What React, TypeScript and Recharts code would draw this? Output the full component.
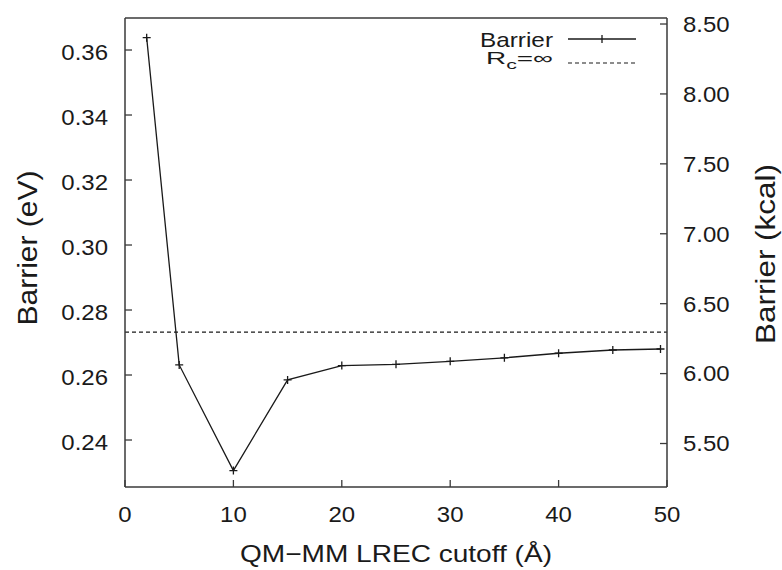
import { LineChart, Line, XAxis, YAxis, ReferenceLine, Legend, Label } from 'recharts';

// QM-MM LREC cutoff (Å) and barrier (eV)
const cutoff = [2, 5, 10, 15, 20, 25, 30, 35, 40, 45, 49.4];
const barrierEv = [0.3638, 0.2631, 0.2306, 0.2585, 0.2629, 0.2633, 0.2642, 0.2653, 0.2667, 0.2677, 0.268];
const infiniteCutoffEv = 0.2732;

const xTicks = [0, 10, 20, 30, 40, 50];
const evTicks = [0.24, 0.26, 0.28, 0.3, 0.32, 0.34, 0.36];
const kcalTicks = [5.5, 6.0, 6.5, 7.0, 7.5, 8.0, 8.5];

const data = cutoff.map((x, i) => ({ x, ev: barrierEv[i] }));

const FONT = '"Liberation Sans", Arial, Helvetica, sans-serif';
const INK = '#1a1a1a';
const AXIS = '#3a3a3a';
const FS = 22;
const SX = 1.09; // the figure's lettering is a bit wider than Arial

const fmt2 = (v: number) => v.toFixed(2);
const fmt0 = (v: number) => String(v);

// tick label drawn with a slight horizontal stretch
const makeTick = (side: 'bottom' | 'side', f: (v: number) => string, dy = 0) => (props: any) => {
  const { x, y, payload, textAnchor } = props;
  const by = side === 'bottom' ? y + 0.716 * FS : y + 0.358 * FS + dy;
  return (
    <text
      x={x}
      y={by}
      textAnchor={textAnchor}
      fontSize={FS}
      fill={INK}
      fontFamily={FONT}
      transform={`translate(${x} 0) scale(${SX} 1) translate(${-x} 0)`}
    >
      {f(payload.value)}
    </text>
  );
};

const PlusDot = (props: any) => {
  const { cx, cy, index } = props;
  if (cx == null || cy == null) return null;
  return <path key={`p${index}`} d={`M${cx - 4},${cy}h8M${cx},${cy - 4}v8`} stroke={INK} strokeWidth={1.3} fill="none" />;
};

function LegendBox() {
  return (
    <svg width={220} height={60} style={{ display: 'block', fontFamily: FONT }}>
      <text x={113} y={24.5} textAnchor="end" fontSize={21} fill={INK} textLength={73} lengthAdjust="spacingAndGlyphs">
        Barrier
      </text>
      <line x1={128} x2={196} y1={17} y2={17} stroke={INK} strokeWidth={1.3} />
      <path d="M162,13v8" stroke={INK} strokeWidth={1.3} />
      <text x={113} y={41.5} textAnchor="end" fontSize={17} fill={INK} textLength={67} lengthAdjust="spacingAndGlyphs">
        R<tspan fontSize={13} dy={5}>c</tspan><tspan dy={-5}>=∞</tspan>
      </text>
      <line x1={128} x2={196} y1={41} y2={41} stroke={INK} strokeWidth={1.1} strokeDasharray="4 3" />
    </svg>
  );
}

export default function App() {
  return (
    <div style={{ position: 'absolute', left: 0, top: 0, background: '#fff' }}>
      <LineChart width={782} height={570} data={data} margin={{ top: 0, right: 0, bottom: 0, left: 0 }}>
        <XAxis
          xAxisId="bottom"
          dataKey="x"
          type="number"
          domain={[0, 50]}
          ticks={xTicks}
          height={83}
          tickSize={-7}
          tickMargin={26}
          tick={makeTick('bottom', fmt0)}
          stroke={AXIS}
          strokeWidth={1.5}
          tickLine={{ stroke: AXIS, strokeWidth: 1.3 }}
        >
          <Label
            content={() => (
              <text x={396} y={562} textAnchor="middle" fontSize={24} fill={INK} fontFamily={FONT} textLength={312} lengthAdjust="spacingAndGlyphs">
                QM−MM LREC cutoff (Å)
              </text>
            )}
          />
        </XAxis>
        <XAxis
          xAxisId="top"
          orientation="top"
          dataKey="x"
          type="number"
          domain={[0, 50]}
          ticks={xTicks}
          height={18}
          tickSize={-7}
          tick={false}
          stroke={AXIS}
          strokeWidth={1.5}
          tickLine={{ stroke: AXIS, strokeWidth: 1.3 }}
        />
        <YAxis
          yAxisId="ev"
          type="number"
          domain={[0.22554, 0.36985]}
          allowDataOverflow
          ticks={evTicks}
          width={125}
          tickSize={-7}
          tickMargin={24}
          tick={makeTick('side', fmt2, 2)}
          stroke={AXIS}
          strokeWidth={1.5}
          tickLine={{ stroke: AXIS, strokeWidth: 1.3 }}
        >
          <Label
            content={() => (
              <text x={37} y={248} transform="rotate(-90 37 248)" textAnchor="middle" fontSize={27} fill={INK} fontFamily={FONT} textLength={155} lengthAdjust="spacingAndGlyphs">
                Barrier (eV)
              </text>
            )}
          />
        </YAxis>
        <YAxis
          yAxisId="kcal"
          orientation="right"
          type="number"
          domain={[5.189, 8.543]}
          allowDataOverflow
          ticks={kcalTicks}
          width={115}
          tickSize={-7}
          tickMargin={23}
          tick={makeTick('side', fmt2)}
          stroke={AXIS}
          strokeWidth={1.5}
          tickLine={{ stroke: AXIS, strokeWidth: 1.3 }}
        >
          <Label
            content={() => (
              <text x={775} y={254} transform="rotate(-90 775 254)" textAnchor="middle" fontSize={27} fill={INK} fontFamily={FONT} textLength={180} lengthAdjust="spacingAndGlyphs">
                Barrier (kcal)
              </text>
            )}
          />
        </YAxis>
        <ReferenceLine
          xAxisId="bottom"
          yAxisId="ev"
          y={infiniteCutoffEv}
          stroke={INK}
          strokeWidth={1.1}
          strokeDasharray="4 3"
        />
        <Line
          xAxisId="bottom"
          yAxisId="ev"
          dataKey="ev"
          type="linear"
          stroke={INK}
          strokeWidth={1.3}
          dot={PlusDot}
          activeDot={false}
          isAnimationActive={false}
        />
        <Legend
          layout="horizontal"
          verticalAlign="middle"
          align="center"
          content={() => <LegendBox />}
          wrapperStyle={{ position: 'absolute', left: 440, top: 22, width: 220, height: 60 }}
        />
      </LineChart>
    </div>
  );
}
